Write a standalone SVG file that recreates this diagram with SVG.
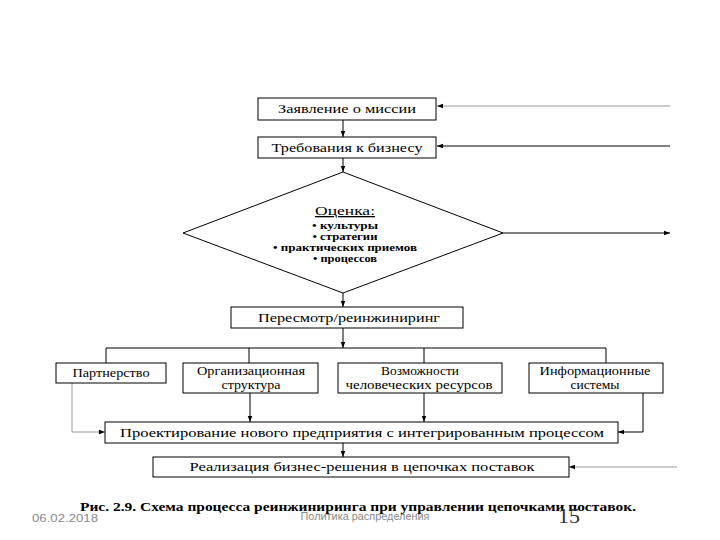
<svg xmlns="http://www.w3.org/2000/svg" width="720" height="540" viewBox="0 0 720 540">
<style>
.box{fill:#fff;stroke:#000;stroke-width:1}
.t{font-family:"Liberation Serif","Times New Roman",serif;font-size:13px;fill:#000;text-anchor:middle}
.b{font-family:"Liberation Serif","Times New Roman",serif;font-size:10.5px;font-weight:bold;fill:#000;text-anchor:middle}
.ln{fill:none;stroke:#000;stroke-width:1}
.gr{fill:none;stroke:#999;stroke-width:1}
.ft{font-family:"Liberation Sans",Arial,sans-serif;fill:#8a8a8a}
</style>
<defs>
<marker id="ah" viewBox="0 0 8 8" refX="8" refY="4" markerWidth="6" markerHeight="6" orient="auto" markerUnits="userSpaceOnUse"><path d="M0,1 L8,4 L0,7 Z" fill="#000"/></marker>
</defs>
<rect width="720" height="540" fill="#fff"/>
<g id="connectors">
<line class="ln" x1="343" y1="120" x2="343" y2="137" marker-end="url(#ah)"/>
<line class="ln" x1="343" y1="158" x2="343" y2="172" marker-end="url(#ah)"/>
<line class="gr" x1="670" y1="106" x2="437" y2="106" marker-end="url(#ah)"/>
<line class="ln" x1="670" y1="146" x2="437" y2="146" marker-end="url(#ah)"/>
<line class="ln" x1="503" y1="233" x2="670" y2="233" marker-end="url(#ah)"/>
<line class="ln" x1="343" y1="293" x2="343" y2="307" marker-end="url(#ah)"/>
<line class="ln" x1="343" y1="328" x2="343" y2="348" marker-end="url(#ah)"/>
<polyline class="ln" points="106,363 106,348 606,348 606,363"/>
<line class="ln" x1="249" y1="348" x2="249" y2="363"/>
<line class="ln" x1="424" y1="348" x2="424" y2="363"/>
<polyline class="gr" points="72,383 72,432 105,432" marker-end="url(#ah)"/>
<line class="ln" x1="250" y1="393" x2="250" y2="422" marker-end="url(#ah)"/>
<line class="ln" x1="424" y1="393" x2="424" y2="422" marker-end="url(#ah)"/>
<polyline class="ln" points="643,393 643,432 618,432" marker-end="url(#ah)"/>
<line class="ln" x1="343" y1="443" x2="343" y2="457" marker-end="url(#ah)"/>
<line class="gr" x1="677" y1="467" x2="569" y2="467" marker-end="url(#ah)"/>
</g>
<g id="mission">
<rect class="box" x="258" y="98" width="178" height="22"/>
<text class="t" x="347" y="113" textLength="138" lengthAdjust="spacingAndGlyphs">Заявление о миссии</text>
</g>
<g id="requirements">
<rect class="box" x="258" y="137" width="178" height="21"/>
<text class="t" x="347" y="152" textLength="151" lengthAdjust="spacingAndGlyphs">Требования к бизнесу</text>
</g>
<g id="assessment">
<polygon class="box" points="343,172 503,233 343,293 183,233"/>
<text class="t" x="345" y="215" textLength="60" lengthAdjust="spacingAndGlyphs" text-decoration="underline">Оценка:</text>
<text class="b" x="345" y="229" textLength="66" lengthAdjust="spacingAndGlyphs">• культуры</text>
<text class="b" x="345" y="240" textLength="65" lengthAdjust="spacingAndGlyphs">• стратегии</text>
<text class="b" x="345" y="251" textLength="144" lengthAdjust="spacingAndGlyphs">• практических приемов</text>
<text class="b" x="345" y="262" textLength="64" lengthAdjust="spacingAndGlyphs">• процессов</text>
</g>
<g id="review">
<rect class="box" x="231" y="307" width="232" height="21"/>
<text class="t" x="349" y="322" textLength="182" lengthAdjust="spacingAndGlyphs">Пересмотр/реинжиниринг</text>
</g>
<g id="partnership">
<rect class="box" x="56" y="363" width="110" height="20"/>
<text class="t" x="111" y="377" style="font-size:12px" textLength="77" lengthAdjust="spacingAndGlyphs">Партнерство</text>
</g>
<g id="orgstructure">
<rect class="box" x="183" y="363" width="135" height="30"/>
<text class="t" x="251" y="375" style="font-size:12px" textLength="108" lengthAdjust="spacingAndGlyphs">Организационная</text>
<text class="t" x="251" y="389" style="font-size:12px" textLength="59" lengthAdjust="spacingAndGlyphs">структура</text>
</g>
<g id="hr">
<rect class="box" x="338" y="363" width="164" height="30"/>
<text class="t" x="420" y="375" style="font-size:12px" textLength="78" lengthAdjust="spacingAndGlyphs">Возможности</text>
<text class="t" x="419" y="389" style="font-size:12px" textLength="147" lengthAdjust="spacingAndGlyphs">человеческих ресурсов</text>
</g>
<g id="infosys">
<rect class="box" x="529" y="363" width="134" height="30"/>
<text class="t" x="595" y="375" style="font-size:12px" textLength="111" lengthAdjust="spacingAndGlyphs">Информационные</text>
<text class="t" x="595" y="389" style="font-size:12px" textLength="49" lengthAdjust="spacingAndGlyphs">системы</text>
</g>
<g id="design">
<rect class="box" x="105" y="422" width="513" height="21"/>
<text class="t" x="362" y="437" textLength="484" lengthAdjust="spacingAndGlyphs">Проектирование нового предприятия с интегрированным процессом</text>
</g>
<g id="implementation">
<rect class="box" x="153" y="457" width="416" height="20"/>
<text class="t" x="362" y="471" style="font-size:12px" textLength="345" lengthAdjust="spacingAndGlyphs">Реализация бизнес-решения в цепочках поставок</text>
</g>
<text x="358" y="511" textLength="556" lengthAdjust="spacingAndGlyphs" style="font-family:'Liberation Serif','Times New Roman',serif;font-size:13.5px;font-weight:bold;text-anchor:middle">Рис. 2.9. Схема процесса реинжиниринга при управлении цепочками поставок.</text>
<text class="ft" x="32" y="522" style="font-size:11px" textLength="66" lengthAdjust="spacingAndGlyphs">06.02.2018</text>
<text class="ft" x="365" y="520" style="font-size:11px;text-anchor:middle" textLength="129" lengthAdjust="spacingAndGlyphs">Политика распределения</text>
<text x="569" y="523" style="font-family:'Liberation Serif','Times New Roman',serif;font-size:22px;fill:#333;text-anchor:middle">15</text>
</svg>
